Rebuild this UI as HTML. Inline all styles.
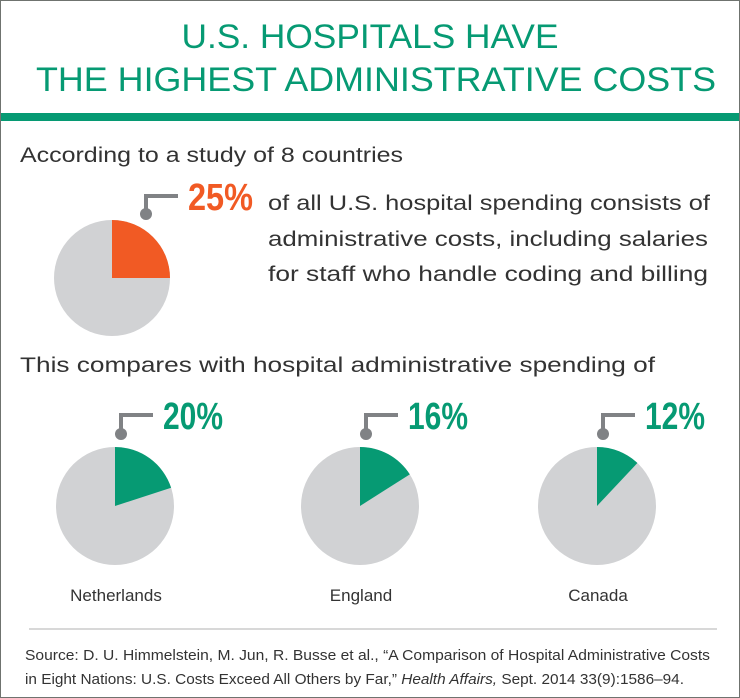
<!DOCTYPE html>
<html><head><meta charset="utf-8"><style>
html,body{margin:0;padding:0;background:#fff}
svg{display:block;font-family:"Liberation Sans",sans-serif}
</style></head><body>
<svg id="c" width="740" height="698" viewBox="0 0 740 698">
<rect x="0.5" y="0.5" width="739" height="697" fill="#fff" stroke="#6f736f"/>
<text x="370" y="48" text-anchor="middle" font-size="34" fill="#069a73" textLength="377" lengthAdjust="spacingAndGlyphs">U.S. HOSPITALS HAVE</text>
<text x="376" y="91" text-anchor="middle" font-size="34" fill="#069a73" textLength="680" lengthAdjust="spacingAndGlyphs">THE HIGHEST ADMINISTRATIVE COSTS</text>
<rect x="1" y="113" width="738" height="8" fill="#069a73"/>
<text x="20" y="162" font-size="21" fill="#333" textLength="383" lengthAdjust="spacingAndGlyphs">According to a study of 8 countries</text>
<g fill="#333" font-size="21">
<text x="268" y="210" textLength="442" lengthAdjust="spacingAndGlyphs">of all U.S. hospital spending consists of</text>
<text x="268" y="246" textLength="440" lengthAdjust="spacingAndGlyphs">administrative costs, including salaries</text>
<text x="268" y="281" textLength="440" lengthAdjust="spacingAndGlyphs">for staff who handle coding and billing</text>
</g>
<text x="20" y="372" font-size="21" fill="#333" textLength="635" lengthAdjust="spacingAndGlyphs">This compares with hospital administrative spending of</text>
<line x1="29" y1="629" x2="717" y2="629" stroke="#d8d8d8" stroke-width="2"/>
<g fill="#333" font-size="15">
<text x="25" y="660" textLength="685" lengthAdjust="spacingAndGlyphs">Source: D. U. Himmelstein, M. Jun, R. Busse et al., “A Comparison of Hospital Administrative Costs</text>
<text x="25" y="684" textLength="659" lengthAdjust="spacingAndGlyphs">in Eight Nations: U.S. Costs Exceed All Others by Far,” <tspan font-style="italic">Health Affairs,</tspan> Sept. 2014 33(9):1586–94.</text>
</g>
<g id="pies"></g>
</svg>
<script>
const countries = ["United States", "Netherlands", "England", "Canada"];
const shares = [25, 20, 16, 12];
const shareLabels = ["25%", "20%", "16%", "12%"];
const NS = "http://www.w3.org/2000/svg";
const layout = [
  {cx:112, cy:278, r:58, color:"#f15a24", label:false},
  {cx:115, cy:506, r:59, color:"#069a73", label:true},
  {cx:360, cy:506, r:59, color:"#069a73", label:true},
  {cx:597, cy:506, r:59, color:"#069a73", label:true}
];
function angle(p){ return p/100*2*Math.PI; }
function pt(cx,cy,r,a){ return [cx + r*Math.sin(a), cy - r*Math.cos(a)]; }
const g = document.getElementById("pies");
countries.forEach((name,i)=>{
  const L = layout[i];
  const c = document.createElementNS(NS,"circle");
  c.setAttribute("cx",L.cx); c.setAttribute("cy",L.cy); c.setAttribute("r",L.r); c.setAttribute("fill","#d1d2d4");
  
  
  g.appendChild(c);
  const a = angle(shares[i]);
  const [x,y] = pt(L.cx,L.cy,L.r,a);
  const p = document.createElementNS(NS,"path");
  p.setAttribute("d",`M${L.cx},${L.cy} L${L.cx},${L.cy-L.r} A${L.r},${L.r} 0 ${a>Math.PI?1:0} 1 ${x},${y} Z`);
  p.setAttribute("fill",L.color);
  
  
  g.appendChild(p);
  // callout
  const vx = L.cx + 34 + (i===0?0:-28);
  const hy = L.cy - L.r - (i===0?24:32);
  const dy = L.cy - L.r - (i===0?6:13);
  const cl = document.createElementNS(NS,"path");
  cl.setAttribute("d",`M${vx},${dy} L${vx},${hy} L${vx+32},${hy}`);
  cl.setAttribute("stroke","#808285"); cl.setAttribute("stroke-width","4"); cl.setAttribute("fill","none");
  
  
  g.appendChild(cl);
  const dot = document.createElementNS(NS,"circle");
  dot.setAttribute("cx",vx); dot.setAttribute("cy",dy); dot.setAttribute("r","6"); dot.setAttribute("fill","#808285");
  
  
  g.appendChild(dot);
  const t = document.createElementNS(NS,"text");
  t.setAttribute("x",vx+42); t.setAttribute("y",hy+14);
  t.setAttribute("font-size","38"); t.setAttribute("font-weight","bold"); t.setAttribute("fill",L.color);
  t.setAttribute("textLength", i===0?"65":"60"); t.setAttribute("lengthAdjust","spacingAndGlyphs");
  t.textContent = shareLabels[i];
  
  
  g.appendChild(t);
  if(L.label){
    const n = document.createElementNS(NS,"text");
    n.setAttribute("x",L.cx+1); n.setAttribute("y",601); n.setAttribute("text-anchor","middle");
    n.setAttribute("font-size","17"); n.setAttribute("fill","#333");
    n.textContent = name;
    
    
    g.appendChild(n);
  }
});
</script>
</body></html>
